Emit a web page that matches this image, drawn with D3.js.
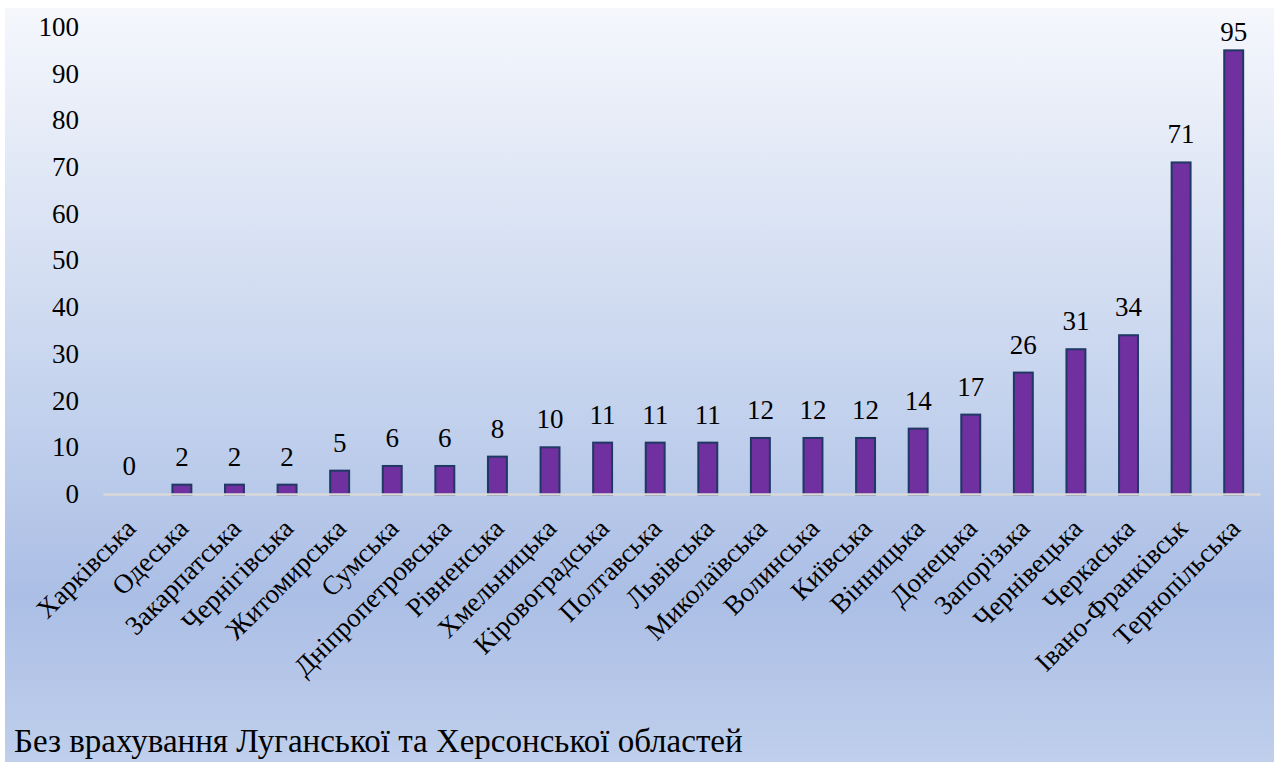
<!DOCTYPE html>
<html>
<head>
<meta charset="utf-8">
<script src="https://cdn.jsdelivr.net/npm/d3@7"></script>
</head>
<body style="margin:0">
<div id="chart"></div>
<script>
// regions and counts
const regions = ["Харківська", "Одеська", "Закарпатська", "Чернігівська", "Житомирська", "Сумська",
    "Дніпропетровська", "Рівненська", "Хмельницька", "Кіровоградська", "Полтавська", "Львівська",
    "Миколаївська", "Волинська", "Київська", "Вінницька", "Донецька", "Запорізька", "Чернівецька",
    "Черкаська", "Івано-Франківськ", "Тернопільська"];
const counts = [0, 2, 2, 2, 5, 6, 6, 8, 10, 11, 11, 11, 12, 12, 12, 14, 17, 26, 31, 34, 71, 95];
const yTicks = [0, 10, 20, 30, 40, 50, 60, 70, 80, 90, 100];
const footnote = "Без врахування Луганської та Херсонської областей";

const serif = "Times New Roman";
const width = 1274, height = 762;
const margin = { top: 27, bottom: 268, left: 103, right: 14 };

let svg = d3.select("#chart").append("svg")
    .attr("width", width)
    .attr("height", height);

// background gradient
let defs = svg.append("defs");
let grad = defs.append("linearGradient").attr("id", "bg")
    .attr("x1", 0).attr("y1", 0).attr("x2", 0).attr("y2", 1);
grad.append("stop").attr("offset", "0%").attr("stop-color", "#f5f7fc");
grad.append("stop").attr("offset", "50%").attr("stop-color", "#c6d4ee");
grad.append("stop").attr("offset", "78%").attr("stop-color", "#abbee5");
grad.append("stop").attr("offset", "100%").attr("stop-color", "#bfcfec");

svg.append("rect")
    .attr("x", 5).attr("y", 8)
    .attr("width", width - 5).attr("height", height - 8)
    .attr("fill", "url(#bg)");

let x = d3.scaleBand()
    .domain(regions)
    .range([margin.left, width - margin.right])
    .paddingInner(0.64)
    .paddingOuter(0.32);

let y = d3.scaleLinear()
    .domain([0, 100])
    .range([height - margin.bottom, margin.top]);

// bars
svg.selectAll("rect.bar")
    .data(counts)
    .join("rect")
    .attr("class", "bar")
    .attr("x", (d, i) => x(regions[i]))
    .attr("y", d => y(d))
    .attr("width", x.bandwidth())
    .attr("height", d => y(0) - y(d) + 1)
    .attr("fill", "#7030a0")
    .attr("stroke", "#1f3864")
    .attr("stroke-width", 2)
    .style("display", d => d === 0 ? "none" : null);

// baseline drawn with the band axis, labels handled below
let xAxis = d3.axisBottom(x).tickSize(0).tickFormat("");
let xGroup = svg.append("g").attr("transform", "translate(0," + y(0) + ")").call(xAxis);
xGroup.select(".domain").attr("stroke", "#d9d9d9").attr("stroke-width", 2.5);

// y tick labels
svg.selectAll("text.ytick")
    .data(yTicks)
    .join("text")
    .attr("class", "ytick")
    .attr("x", 79)
    .attr("y", d => y(d))
    .attr("dy", "0.33em")
    .attr("text-anchor", "end")
    .attr("font-size", 27)
    .style("font-family", serif)
    .text(d => d);

// value labels
svg.selectAll("text.val")
    .data(counts)
    .join("text")
    .attr("class", "val")
    .attr("x", (d, i) => x(regions[i]) + x.bandwidth() / 2)
    .attr("y", d => Math.max(y(d) - 19, 41))
    .attr("text-anchor", "middle")
    .attr("font-size", 27)
    .style("font-family", serif)
    .text(d => d);

// category labels rotated
svg.selectAll("text.cat")
    .data(regions)
    .join("text")
    .attr("class", "cat")
    .attr("transform", d => "translate(" + (x(d) + x.bandwidth() / 2 + 8) + "," + (y(0) + 36) + ") rotate(-45)")
    .attr("text-anchor", "end")
    .attr("font-size", 27)
    .style("font-family", serif)
    .text(d => d);

// footnote
svg.append("text")
    .attr("x", 14)
    .attr("y", 752)
    .attr("font-size", 33)
    .style("font-family", serif)
    .text(footnote);
</script>
</body>
</html>
